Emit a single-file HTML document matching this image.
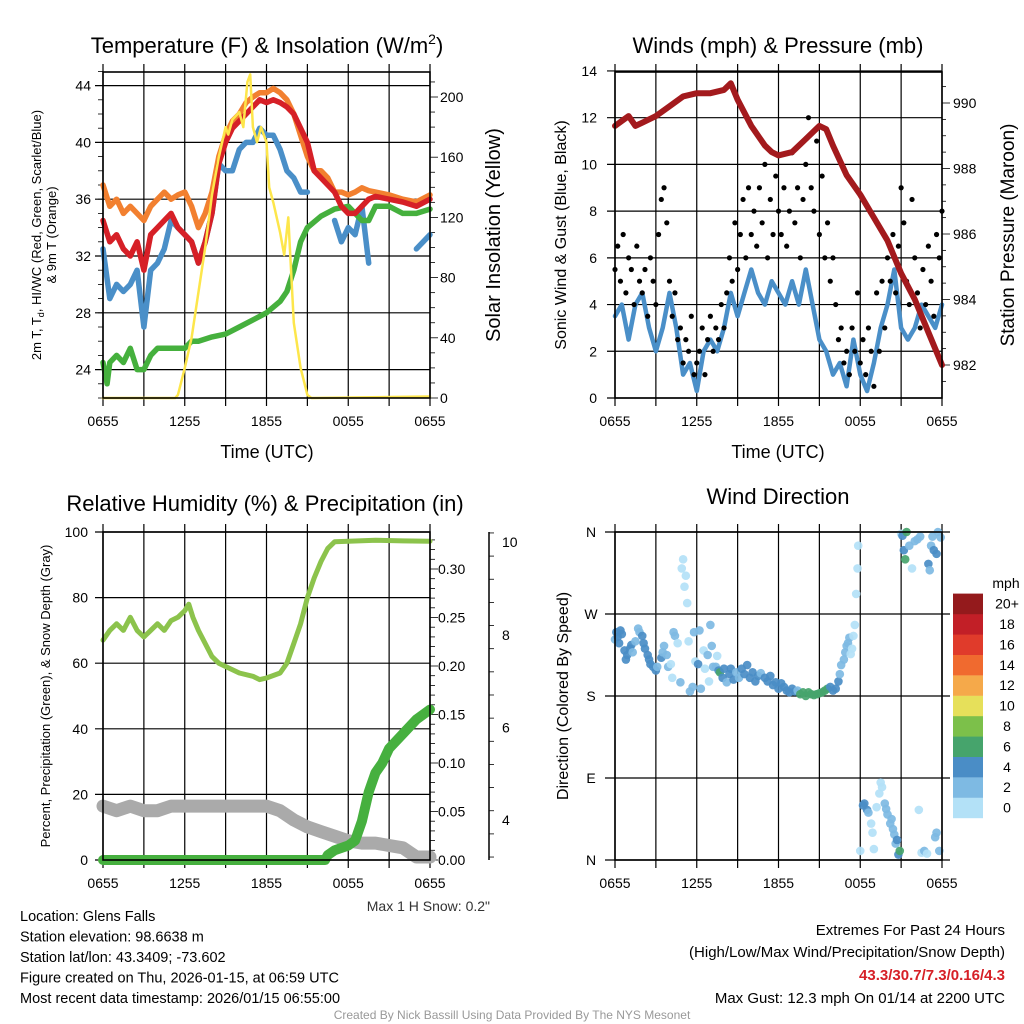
<!DOCTYPE html>
<html><head><meta charset="utf-8"><style>
html,body{margin:0;padding:0;background:#fff;}
svg{display:block;font-family:"Liberation Sans",Arial,sans-serif;}
</style></head><body>
<svg id="c" width="1024" height="1024" viewBox="0 0 1024 1024"></svg>
<script>
// ---------- DATA ----------
const tH = [0,0.5,1,1.5,2,2.5,3,3.5,4,4.5,5,5.5,6,6.5,7,7.5,8,8.5,9,9.5,10,10.5,11,11.5,12,12.5,13,13.5,14,14.5,15,15.5,16,16.5,17,17.5,18,18.5,19,19.5,20,21,22,23,24];
const tempRed = [34.5,33,33.5,32.5,32,33,31,33.5,34,34.5,35,34,33.5,33,31.5,33,35,38.5,40,41,41.5,42,42.5,43,42.8,43,42.8,42.5,42,41,40,38,37.5,37,36.5,35.5,35,35,35.5,36,36.2,36,35.8,35.5,36];
const temp9m = [37,35.5,36,35,35.5,35,34.5,35.5,36,36.5,36,36.3,36.5,35.5,34,35,36.5,39,40.5,41.5,42,42.8,43.2,43.5,43.5,43.8,43.5,43,42,40.5,39,38,38,37.5,36.5,36.5,36.3,36.5,36.8,36.6,36.5,36.3,36,35.8,36.3];
const tempBlue = [32.5,29,30,29.5,30,31,27,31,31.5,32.5,34.5,34,33.5,33,31.5,33,35,38.5,38,38,39.5,40,40,41,40.5,40.5,39.5,38,37.5,36.5,36.5,null,null,null,34.5,33,34,33.5,35.5,31.5,null,null,null,32.5,33.5];
const dewH = [0,0.3,0.5,1,1.5,2,2.5,3,3.5,4,5,6,6.5,7,8,9,10,11,12,13,13.5,14,14.5,15,16,17,18,18.5,19,19.5,20,21,22,23,24];
const dewpt = [24.5,23,24.5,25,24.5,25.5,24,24,25,25.5,25.5,25.5,26,26,26.3,26.5,27,27.5,28,28.8,29.5,31,33,34,34.8,35.3,35.5,35,34.5,34.5,35.5,35.5,35,35,35.3];
const solarH = [0,5.3,5.5,6,6.5,7,7.5,8,8.5,9,9.2,9.5,10,10.3,10.6,10.8,11,11.3,11.6,12,12.2,12.5,13,13.3,13.6,14,14.5,15,15.3,24];
const solar = [0,0,2,20,40,70,100,135,160,180,175,185,190,180,210,215,180,170,180,170,140,130,110,95,120,50,20,2,0,1];

const presH = [0,1,1.5,2,3,4,5,6,7,8,8.5,9,10,11,11.5,12,13,14,15,15.5,16,17,18,19,20,21,22,23,24];
const pressure = [989.3,989.6,989.3,989.4,989.6,989.9,990.2,990.3,990.3,990.4,990.6,990.1,989.3,988.7,988.5,988.4,988.5,988.9,989.3,989.2,988.7,987.8,987.2,986.5,985.8,984.8,984,983,982];
const windH = [0,0.5,1,1.5,2,2.5,3,3.5,4,4.5,5,5.5,6,6.5,7,7.5,8,8.5,9,9.5,10,10.5,11,11.5,12,12.5,13,13.5,14,14.5,15,15.5,16,16.5,17,17.5,18,18.5,19,19.5,20,20.5,21,21.5,22,22.5,23,23.5,24];
const windSpd = [3.5,4,2.5,4,4.5,3,2,3,4.5,3,1,1.5,0.3,2,2.5,2,3,4.5,3.5,4.5,5.5,4.5,4,5,4.5,4,5,4,5.5,4,2.5,2,1,1.5,0.5,2.5,1,0.3,1.5,3,4,5.5,3,2.5,3,4,3.5,3,4];
const gustH = [0,0.2,0.4,0.6,0.8,1,1.2,1.4,1.6,1.8,2,2.2,2.4,2.6,2.8,3,3.2,3.4,3.6,3.8,4,4.2,4.4,4.6,4.8,5,5.2,5.4,5.6,5.8,6,6.2,6.4,6.6,6.8,7,7.2,7.4,7.6,7.8,8,8.2,8.4,8.6,8.8,9,9.2,9.4,9.6,9.8,10,10.2,10.4,10.6,10.8,11,11.2,11.4,11.6,11.8,12,12.2,12.4,12.6,12.8,13,13.2,13.4,13.6,13.8,14,14.2,14.4,14.6,14.8,15,15.2,15.4,15.6,15.8,16,16.2,16.4,16.6,16.8,17,17.2,17.4,17.6,17.8,18,18.2,18.4,18.6,18.8,19,19.2,19.4,19.6,19.8,20,20.2,20.4,20.6,20.8,21,21.2,21.4,21.6,21.8,22,22.2,22.4,22.6,22.8,23,23.2,23.4,23.6,23.8,24];
const gustSpd = [5.5,6.5,5,7,4.5,6,5.5,4,6.5,5, 4.5,5.5,3.5,6,5,4,7,8.5,9,7.5, 5,3.5,4.5,2.5,3,1.5,2.5,2,3.5,1, 1.5,2,3,1,2.5,3.5,2,3,2.5,4, 3,4.5,6,5,7.5,5.5,7,8.5,6,9, 7,8,6.5,9,7.5,10,6,8.5,7,9.5, 8,7,9,6.5,8,10.5,7.5,9,6,8.5, 10,12,9,8,11,7,9.5,6,7.5,5, 6,4,2.5,3,1.5,2,1,3,2,4.5, 1.5,2.5,1,3,2,0.5,4.5,2,5,3, 6,5,7,4.5,6.5,9,7.5,5,4,8.5, 6,4.5,3,5.5,4,6.5,5,3.5,7,6, 8];

const rhH = [0,0.5,1,1.5,2,2.5,3,3.5,4,4.5,5,5.5,6,6.3,6.6,7,7.5,8,8.5,9,10,11,11.5,12,13,13.5,14,14.5,15,15.5,16,16.5,17,18,20,22,24];
const rh = [67,70,72,70,74,70,68,70,72,70,73,74,76,78,74,70,66,62,60,59,57,56,55,55.5,57,60,66,72,80,86,91,95,97,97.2,97.5,97.3,97.2];
const precH = [0,16.3,16.5,17,18,18.5,19,19.5,20,20.5,21,22,23,24];
const precip = [0,0,0.005,0.01,0.015,0.02,0.04,0.07,0.09,0.1,0.115,0.13,0.145,0.155];
const snowH = [0,1,2,3,4,5,6,8,10,12,13,14,15,16,17,18,19,20,21,22,22.5,23,24];
const snow = [4.3,4.2,4.3,4.2,4.2,4.3,4.3,4.3,4.3,4.3,4.2,4.0,3.85,3.75,3.65,3.55,3.5,3.5,3.45,3.4,3.3,3.2,3.2];

const dirH = [0,0.1,0.2,0.3,0.4,0.5,0.7,0.8,0.9,1.1,1.2,1.3,1.5,1.7,1.8,2.0,2.1,2.2,2.4,2.5,2.6,2.8,3.0,3.1,3.4,3.5,3.6,3.8,3.9,4.1,4.2,4.3,4.4,4.6,4.8,4.9,5.0,5.1,5.2,5.3,5.4,5.5,5.7,5.8,5.9,6.1,6.2,6.3,6.5,6.6,6.8,6.9,7.0,7.1,7.2,7.4,7.5,7.6,7.7,7.9,8.0,8.2,8.4,8.5,8.7,8.9,9.1,9.3,9.5,9.7,9.9,10.1,10.3,10.5,10.7,11.0,11.2,11.4,11.6,11.8,12.0,12.2,12.4,12.6,12.8,13.0,13.2,13.4,13.6,13.8,14.0,14.2,14.4,14.6,14.8,15.0,15.2,15.4,15.6,15.8,16.0,16.2,16.4,16.5,16.6,16.8,16.9,17.0,17.1,17.2,17.3,17.4,17.5,17.6,17.7,17.8,17.85,18.0,18.2,18.3,18.5,18.6,18.8,18.9,19.0,19.2,19.4,19.5,19.6,19.8,19.9,20.0,20.2,20.3,20.4,20.5,20.6,20.7,20.8,20.9,21.0,21.1,21.2,21.3,21.4,21.6,21.8,22.0,22.2,22.4,22.5,22.7,22.9,22.3,23.0,23.1,23.2,23.3,23.4,23.6,23.7,23.9,23.5,23.6,23.8];
const dirDeg = [242,250,245,238,252,248,230,220,225,232,236,228,240,254,250,246,238,232,225,220,215,212,208,212,222,228,235,225,212,215,200,250,246,238,195,320,330,300,312,282,240,185,190,250,218,215,252,188,230,210,225,196,258,235,212,212,224,208,206,200,210,195,204,210,198,206,200,210,204,214,200,206,196,202,205,200,196,202,192,195,188,194,190,186,184,188,185,186,182,184,180,184,182,181,182,183,184,186,188,190,186,188,196,204,214,220,228,235,238,244,226,232,246,258,292,320,345,10,60,62,55,52,40,30,12,58,73,85,80,62,56,50,40,45,34,28,18,22,6,10,358,356,340,330,360,345,320,350,352,355,8,10,7,55,325,318,345,355,340,336,360,354,25,30,10];
const dirSpd = [3,4,4,4,4,4,4,4,4,4,4,3,3,3,3,4,4,4,4,4,4,4,4,3,4,3,3,3,2,1,1,3,2,1,2,1,1,1,1,1,1,3,2,3,1,4,3,2,1,1,2,1,3,3,2,2,1,4,7,4,4,3,4,4,4,3,3,4,4,4,4,4,4,4,3,4,4,4,4,4,4,4,4,4,4,4,4,3,6,6,6,6,6,6,6,6,6,6,6,4,4,4,4,3,2,2,2,2,2,2,1,1,1,1,1,1,1,1,4,4,4,3,1,1,1,1,1,1,1,3,2,3,2,2,3,2,3,4,4,6,1,4,4,6,6,2,1,2,2,2,1,2,1,1,4,2,2,3,4,4,3,2,2,2,2];
const binLabels = ['0','2','4','6','8','10','12','14','16','18','20+'];
const binColors = ['#b3e1f7','#7ebae3','#4a8dc6','#46a46c','#7cc04a','#e6e05a','#f5a94a','#f06a2f','#e03b2b','#c21f27','#941a1c'];

// ---------- HELPERS ----------
const svg = document.getElementById('c');
const NS = 'http://www.w3.org/2000/svg';
function mk(tag, attrs, name, parent) {
  const el = document.createElementNS(NS, tag);
  for (const k in attrs) el.setAttribute(k, attrs[k]);
  
  
  (parent || svg).appendChild(el);
  return el;
}
function txt(x, y, s, size, anchor, name, extra) {
  const a = Object.assign({x: x, y: y, 'font-size': size, 'text-anchor': anchor || 'middle', fill: '#000'}, extra || {});
  const t = mk('text', a, name);
  t.textContent = s;
  return t;
}
function span(parent, s, attrs) {
  const sp = document.createElementNS(NS, 'tspan');
  for (const k in attrs) sp.setAttribute(k, attrs[k]);
  sp.textContent = s;
  parent.appendChild(sp);
  return sp;
}
function poly(hs, vs, xf, yf, color, w, name) {
  let segs = [], cur = [];
  for (let i = 0; i < hs.length; i++) {
    if (vs[i] === null) { if (cur.length) segs.push(cur); cur = []; continue; }
    cur.push(xf(hs[i]).toFixed(1) + ',' + yf(vs[i]).toFixed(1));
  }
  if (cur.length) segs.push(cur);
  segs.forEach(s => mk('polyline', {points: s.join(' '), fill: 'none', stroke: color, 'stroke-width': w, 'stroke-linejoin': 'round', 'stroke-linecap': 'round'}, name));
}
function ln(x1, y1, x2, y2, w, name, col) {
  mk('line', {x1: x1, y1: y1, x2: x2, y2: y2, stroke: col || '#000', 'stroke-width': w}, name);
}
function frame(x0, y0, x1, y1, name) {
  mk('rect', {x: x0, y: y0, width: x1 - x0, height: y1 - y0, fill: 'none', stroke: '#000', 'stroke-width': 1.6}, name);
}
const hourTicks = [0, 6, 12, 18, 24];
const hourLabels = ['0655', '1255', '1855', '0055', '0655'];
const gridHours = [0, 3, 6, 9, 12, 15, 18, 21, 24];
function timeAxis(x0, y0, y1, name) {
  const X = h => x0 + h * 13.625;
  gridHours.forEach(h => ln(X(h), y0 - 8, X(h), y1 + 8, 1.2, name + '-vgrid'));
  hourTicks.forEach((h, i) => txt(X(h), y1 + 28, hourLabels[i], 14, 'middle', name + '-tick-label'));
  return X;
}

// ---------- PANEL 1 ----------
const X1 = timeAxis(103, 72, 398, 'temp-panel');
const Yt = v => 398 - (v - 22) * 14.2;
const Ys = v => 398 - v * 1.505;
[24, 28, 32, 36, 40, 44].forEach(v => { ln(95, Yt(v), 430, Yt(v), 1.2, 'temp-hgrid'); txt(91, Yt(v) + 5, String(v), 14, 'end', 'temp-y-tick-label'); });
for (let v = 22; v <= 45; v++) ln(98, Yt(v), 103, Yt(v), 0.8, 'temp-minor-tick');
for (let v = 0; v <= 210; v += 10) ln(430, Ys(v), v % 40 === 0 ? 438 : 435, Ys(v), 0.8, 'solar-tick');
[0, 40, 80, 120, 160, 200].forEach(v => txt(440, Ys(v) + 5, String(v), 14, 'start', 'solar-y-tick-label'));
poly(tH, tempBlue, X1, Yt, '#4a8fc8', 5.5, 'windchill-line');
poly(dewH, dewpt, X1, Yt, '#45b03d', 5.5, 'dewpoint-line');
poly(tH, temp9m, X1, Yt, '#f28030', 5.5, 'temp-9m-line');
poly(tH, tempRed, X1, Yt, '#d62027', 5.5, 'temp-2m-line');
poly(solarH, solar, X1, Ys, '#fde64b', 2.5, 'solar-line');
frame(103, 72, 430, 398, 'temp-plot-frame');
const t1 = txt(267, 53, 'Temperature (F) & Insolation (W/m', 22, 'middle', 'temp-panel-title');
span(t1, '2', {dy: '-9', 'font-size': '14'});
span(t1, ')', {dy: '9'});
txt(267, 458, 'Time (UTC)', 18, 'middle', 'temp-x-axis-title');
const yt = txt(0, 0, '2m T, T', 13, 'middle', 'temp-y-axis-title', {transform: 'translate(41,235) rotate(-90)'});
span(yt, 'd', {dy: '3', 'font-size': '9'});
span(yt, ', HI/WC (Red, Green, Scarlet/Blue)', {dy: '-3'});
txt(0, 0, '& 9m T (Orange)', 13, 'middle', 'temp-y-axis-title-2', {transform: 'translate(56,235) rotate(-90)'});
txt(0, 0, 'Solar Insolation (Yellow)', 20, 'middle', 'solar-y-axis-title', {transform: 'translate(500,235) rotate(-90)'});

// ---------- PANEL 2 ----------
const X2 = timeAxis(615, 72, 398, 'wind-panel');
const Yw = v => 398 - v * 23.36;
const Yp = v => 365 - (v - 982) * 32.75;
[0, 2, 4, 6, 8, 10, 12, 14].forEach(v => { ln(607, Yw(v), 942, Yw(v), 1.2, 'wind-hgrid'); txt(597, Yw(v) + 5, String(v), 14, 'end', 'wind-y-tick-label'); });
for (let v = 981.5; v <= 990.9; v += 0.5) ln(942, Yp(v), Math.abs(v % 2) < 0.01 ? 950 : 946, Yp(v), 0.8, 'pressure-tick');
[982, 984, 986, 988, 990].forEach(v => txt(953, Yp(v) + 5, String(v), 14, 'start', 'pressure-y-tick-label'));
poly(windH, windSpd, X2, Yw, '#4a8fc8', 4.5, 'sonic-wind-line');
gustH.forEach((h, i) => mk('circle', {cx: X2(h), cy: Yw(gustSpd[i]), r: 2.6, fill: '#000'}, 'gust-point'));
poly(presH, pressure, X2, Yp, '#a31a1d', 6, 'pressure-line');
frame(615, 72, 942, 398, 'wind-plot-frame');
txt(778, 53, 'Winds (mph) & Pressure (mb)', 22, 'middle', 'wind-panel-title');
txt(778, 458, 'Time (UTC)', 18, 'middle', 'wind-x-axis-title');
txt(0, 0, 'Sonic Wind & Gust (Blue, Black)', 16, 'middle', 'wind-y-axis-title', {transform: 'translate(566,235) rotate(-90)'});
txt(0, 0, 'Station Pressure (Maroon)', 19, 'middle', 'pressure-y-axis-title', {transform: 'translate(1014,235) rotate(-90)'});

// ---------- PANEL 3 ----------
const X3 = timeAxis(103, 532, 860, 'rh-panel');
const Yrh = v => 860 - v * 3.28;
const Ypr = v => 860 - v * 970;
const Ysn = v => 820 - (v - 4) * 46.3;
[0, 20, 40, 60, 80, 100].forEach(v => { ln(95, Yrh(v), 430, Yrh(v), 1.2, 'rh-hgrid'); txt(88, Yrh(v) + 5, String(v), 14, 'end', 'rh-y-tick-label'); });
for (let v = 0; v <= 0.335; v += 0.01) ln(430, Ypr(v), Math.round(v * 100) % 5 === 0 ? 438 : 435, Ypr(v), 0.8, 'precip-tick');
['0.00', '0.05', '0.10', '0.15', '0.20', '0.25', '0.30'].forEach(s => txt(438, Ypr(parseFloat(s)) + 5, s, 14, 'start', 'precip-y-tick-label'));
ln(489, 532, 489, 860, 1.5, 'snow-axis-line');
for (let v = 3.2; v <= 10.2; v += 0.5) ln(489, Ysn(v), Math.abs(v % 2) < 0.01 ? 497 : 494, Ysn(v), 0.8, 'snow-tick');
[4, 6, 8, 10].forEach(v => txt(502, Ysn(v) + 5, String(v), 14, 'start', 'snow-y-tick-label'));
poly(snowH, snow, X3, Ysn, '#aaaaaa', 13, 'snow-depth-line');
poly(rhH, rh, X3, Yrh, '#8cc34c', 5, 'rh-line');
poly(precH, precip, X3, Ypr, '#46b03f', 10, 'precip-line');
frame(103, 532, 430, 860, 'rh-plot-frame');
txt(265, 511, 'Relative Humidity (%) & Precipitation (in)', 22, 'middle', 'rh-panel-title');
txt(0, 0, 'Percent, Precipitation (Green), & Snow Depth (Gray)', 13, 'middle', 'rh-y-axis-title', {transform: 'translate(50,696) rotate(-90)'});
txt(490, 911, 'Max 1 H Snow: 0.2"', 14, 'end', 'max-snow-note', {fill: '#333'});

// ---------- PANEL 4 ----------
const X4 = timeAxis(615, 532, 860, 'dir-panel');
const Yd = v => 860 - v * 0.9111;
const dirTicks = [0, 90, 180, 270, 360];
const dirLabels = ['N', 'E', 'S', 'W', 'N'];
dirTicks.forEach((v, i) => { ln(605, Yd(v), 950, Yd(v), 1.2, 'dir-hgrid'); txt(591, Yd(v) + 5, dirLabels[i], 14, 'middle', 'dir-y-tick-label'); });
dirH.forEach((h, i) => {
  const bin = Math.min(10, Math.floor(dirSpd[i] / 2));
  mk('circle', {cx: X4(h), cy: Yd(dirDeg[i]), r: 4.3, fill: binColors[bin], opacity: 0.92}, 'direction-point');
});
frame(615, 532, 942, 860, 'dir-plot-frame');
txt(778, 504, 'Wind Direction', 22, 'middle', 'dir-panel-title');
txt(0, 0, 'Direction (Colored By Speed)', 16, 'middle', 'dir-y-axis-title', {transform: 'translate(568,696) rotate(-90)'});
txt(1006, 588, 'mph', 14, 'middle', 'colorbar-title');
binColors.forEach((c, i) => {
  const y = 818 - (i + 1) * 20.4;
  mk('rect', {x: 953, y: y, width: 30, height: 20.6, fill: c}, 'colorbar-bin');
  txt(1007, y + 15, binLabels[i], 14, 'middle', 'colorbar-label');
});

// ---------- FOOTER ----------
['Location: Glens Falls', 'Station elevation: 98.6638 m', 'Station lat/lon: 43.3409; -73.602', 'Figure created on Thu, 2026-01-15, at 06:59 UTC', 'Most recent data timestamp: 2026/01/15 06:55:00'].forEach((s, i) => txt(20, 921 + i * 20.5, s, 14.5, 'start', 'station-info-line'));
txt(1005, 935, 'Extremes For Past 24 Hours', 15, 'end', 'extremes-title');
txt(1005, 957, '(High/Low/Max Wind/Precipitation/Snow Depth)', 15, 'end', 'extremes-subtitle');
txt(1005, 980, '43.3/30.7/7.3/0.16/4.3', 15, 'end', 'extremes-values', {fill: '#d62027', 'font-weight': 'bold'});
txt(1005, 1003, 'Max Gust: 12.3 mph On 01/14 at 2200 UTC', 15, 'end', 'max-gust-text');
txt(512, 1019, 'Created By Nick Bassill Using Data Provided By The NYS Mesonet', 12, 'middle', 'credit-text', {fill: '#999'});
</script>
</body></html>
